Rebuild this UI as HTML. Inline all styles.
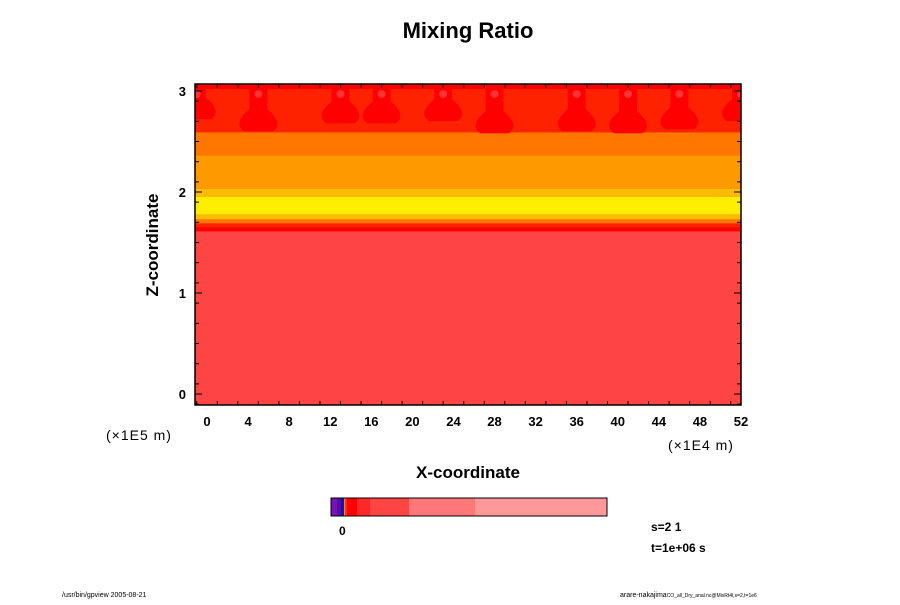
<!DOCTYPE html>
<html><head><meta charset="utf-8"><style>
body{margin:0;background:#fff;}
svg text{font-family:"Liberation Sans",sans-serif;}
</style></head><body>
<svg id="c" width="900" height="600" viewBox="0 0 900 600" xmlns="http://www.w3.org/2000/svg">
<text x="468" y="38" font-size="22" font-weight="bold" text-anchor="middle">Mixing Ratio</text>
<g id="plot"></g>
<g id="axes"></g>
<text transform="translate(158,245) rotate(-90)" font-size="17" font-weight="bold" text-anchor="middle">Z-coordinate</text>
<text x="468" y="478" font-size="17" font-weight="bold" text-anchor="middle">X-coordinate</text>
<text x="106" y="440" font-size="14" letter-spacing="1">(×1E5 m)</text>
<text x="668" y="450" font-size="14" letter-spacing="1">(×1E4 m)</text>
<g id="cbar"></g>
<text x="339" y="535" font-size="12" font-weight="bold">0</text>
<text x="651" y="531" font-size="12" font-weight="bold">s=2 1</text>
<text x="651" y="552" font-size="12" font-weight="bold">t=1e+06 s</text>
<text x="62" y="597" font-size="7">/usr/bin/gpview 2005-08-21</text>
<text x="620" y="597" font-size="7">arare-nakajima<tspan font-size="5">CO_all_Dry_anal.nc@MixRt4l,s=2,t=1e6</tspan></text>
</svg>
<script>
// data
const xTicks=[0,4,8,12,16,20,24,28,32,36,40,44,48,52];
const zTicks=[0,1,2,3];
const bandTops=[3.11,3.07,3.02,2.59,2.36,2.03,1.95,1.78,1.73,1.69,1.65,1.61];
const bandColors=["#ff3300","#ff0000","#ff2200","#ff7700","#ff9900","#ffbb00","#ffee00","#ffbb00","#ff7700","#ff2200","#ff0000","#ff4444"];
const fingerX=[-1,5,13,17,23,28,36,41,46,52];
const fingerBottom=[2.72,2.6,2.68,2.68,2.7,2.58,2.6,2.58,2.62,2.7];
const cbarLevels=[0,1,2,3,4,5,6,7,8,9];
const cbarColors=["#7a10b8","#5a0aa0","#1a10b0","#ff8800","#ff3300","#ff0000","#ff2828","#ff4444","#ff7777","#ff9999"];
const cbarWidths=[6,4,3,1,2,10,13,39,66,132];

const NS="http://www.w3.org/2000/svg";
const L=195,R=741,T=84,B=405;
const sx=v=>207+(v/52)*(741-207);
const sz=v=>394-v*101;
function el(t,a,p){const e=document.createElementNS(NS,t);for(const k in a)e.setAttribute(k,a[k]);p.appendChild(e);return e;}
const plot=document.getElementById('plot'),axes=document.getElementById('axes'),cb=document.getElementById('cbar');
const defs=el('defs',{},plot);const cp=el('clipPath',{id:'cl'},defs);el('rect',{x:L,y:T,width:R-L,height:B-T},cp);
const g=el('g',{'clip-path':'url(#cl)'},plot);
bandTops.forEach((z,i)=>{
  const r=el('rect',{x:L,y:sz(z),width:R-L,height:B-sz(z),fill:bandColors[i]},g);
  
  
});
fingerX.forEach((x,i)=>{
  const top=sz(3.02),bot=sz(fingerBottom[i]),X=sx(x);
  const p=el('path',{d:`M${X-9},${top} L${X-9},${bot-22} Q${X-26},${bot-8} ${X-14},${bot} L${X+14},${bot} Q${X+26},${bot-8} ${X+9},${bot-22} L${X+9},${top} Z`,fill:'#ff0000'},g);
  
  
  const c=el('circle',{cx:X,cy:top+5,r:4,fill:'#ff3333'},g);
  
  
});
el('rect',{x:L,y:T,width:R-L,height:B-T,fill:'none',stroke:'#000','stroke-width':1.5},axes);
for(let v=-1;v<=53;v+=2){const X=sx(v);if(X<L||X>R)continue;const len=v%4===0?7:4;
  el('line',{x1:X,y1:B,x2:X,y2:B-len,stroke:'#000'},axes);el('line',{x1:X,y1:T,x2:X,y2:T+len,stroke:'#000'},axes);}
for(let v=-0.1;v<=3.11;v+=0.2){const Y=sz(v);if(Y<T||Y>B)continue;
  el('line',{x1:L,y1:Y,x2:L+4,y2:Y,stroke:'#000'},axes);el('line',{x1:R,y1:Y,x2:R-4,y2:Y,stroke:'#000'},axes);}
zTicks.forEach(v=>{const Y=sz(v);el('line',{x1:L,y1:Y,x2:L+7,y2:Y,stroke:'#000'},axes);el('line',{x1:R,y1:Y,x2:R-7,y2:Y,stroke:'#000'},axes);
  const t=el('text',{x:186,y:Y+5,'font-size':13,'font-weight':'bold','text-anchor':'end'},axes);t.textContent=v;
  
  });
xTicks.forEach(v=>{const t=el('text',{x:sx(v),y:426,'font-size':13,'font-weight':'bold','text-anchor':'middle'},axes);t.textContent=v;
  
  });
let cx=331;
cbarLevels.forEach((l,i)=>{const r=el('rect',{x:cx,y:498,width:cbarWidths[i],height:18,fill:cbarColors[i]},cb);cx+=cbarWidths[i];
  
  });
el('rect',{x:331,y:498,width:276,height:18,fill:'none',stroke:'#000','stroke-width':1},cb);
</script>
</body></html>
